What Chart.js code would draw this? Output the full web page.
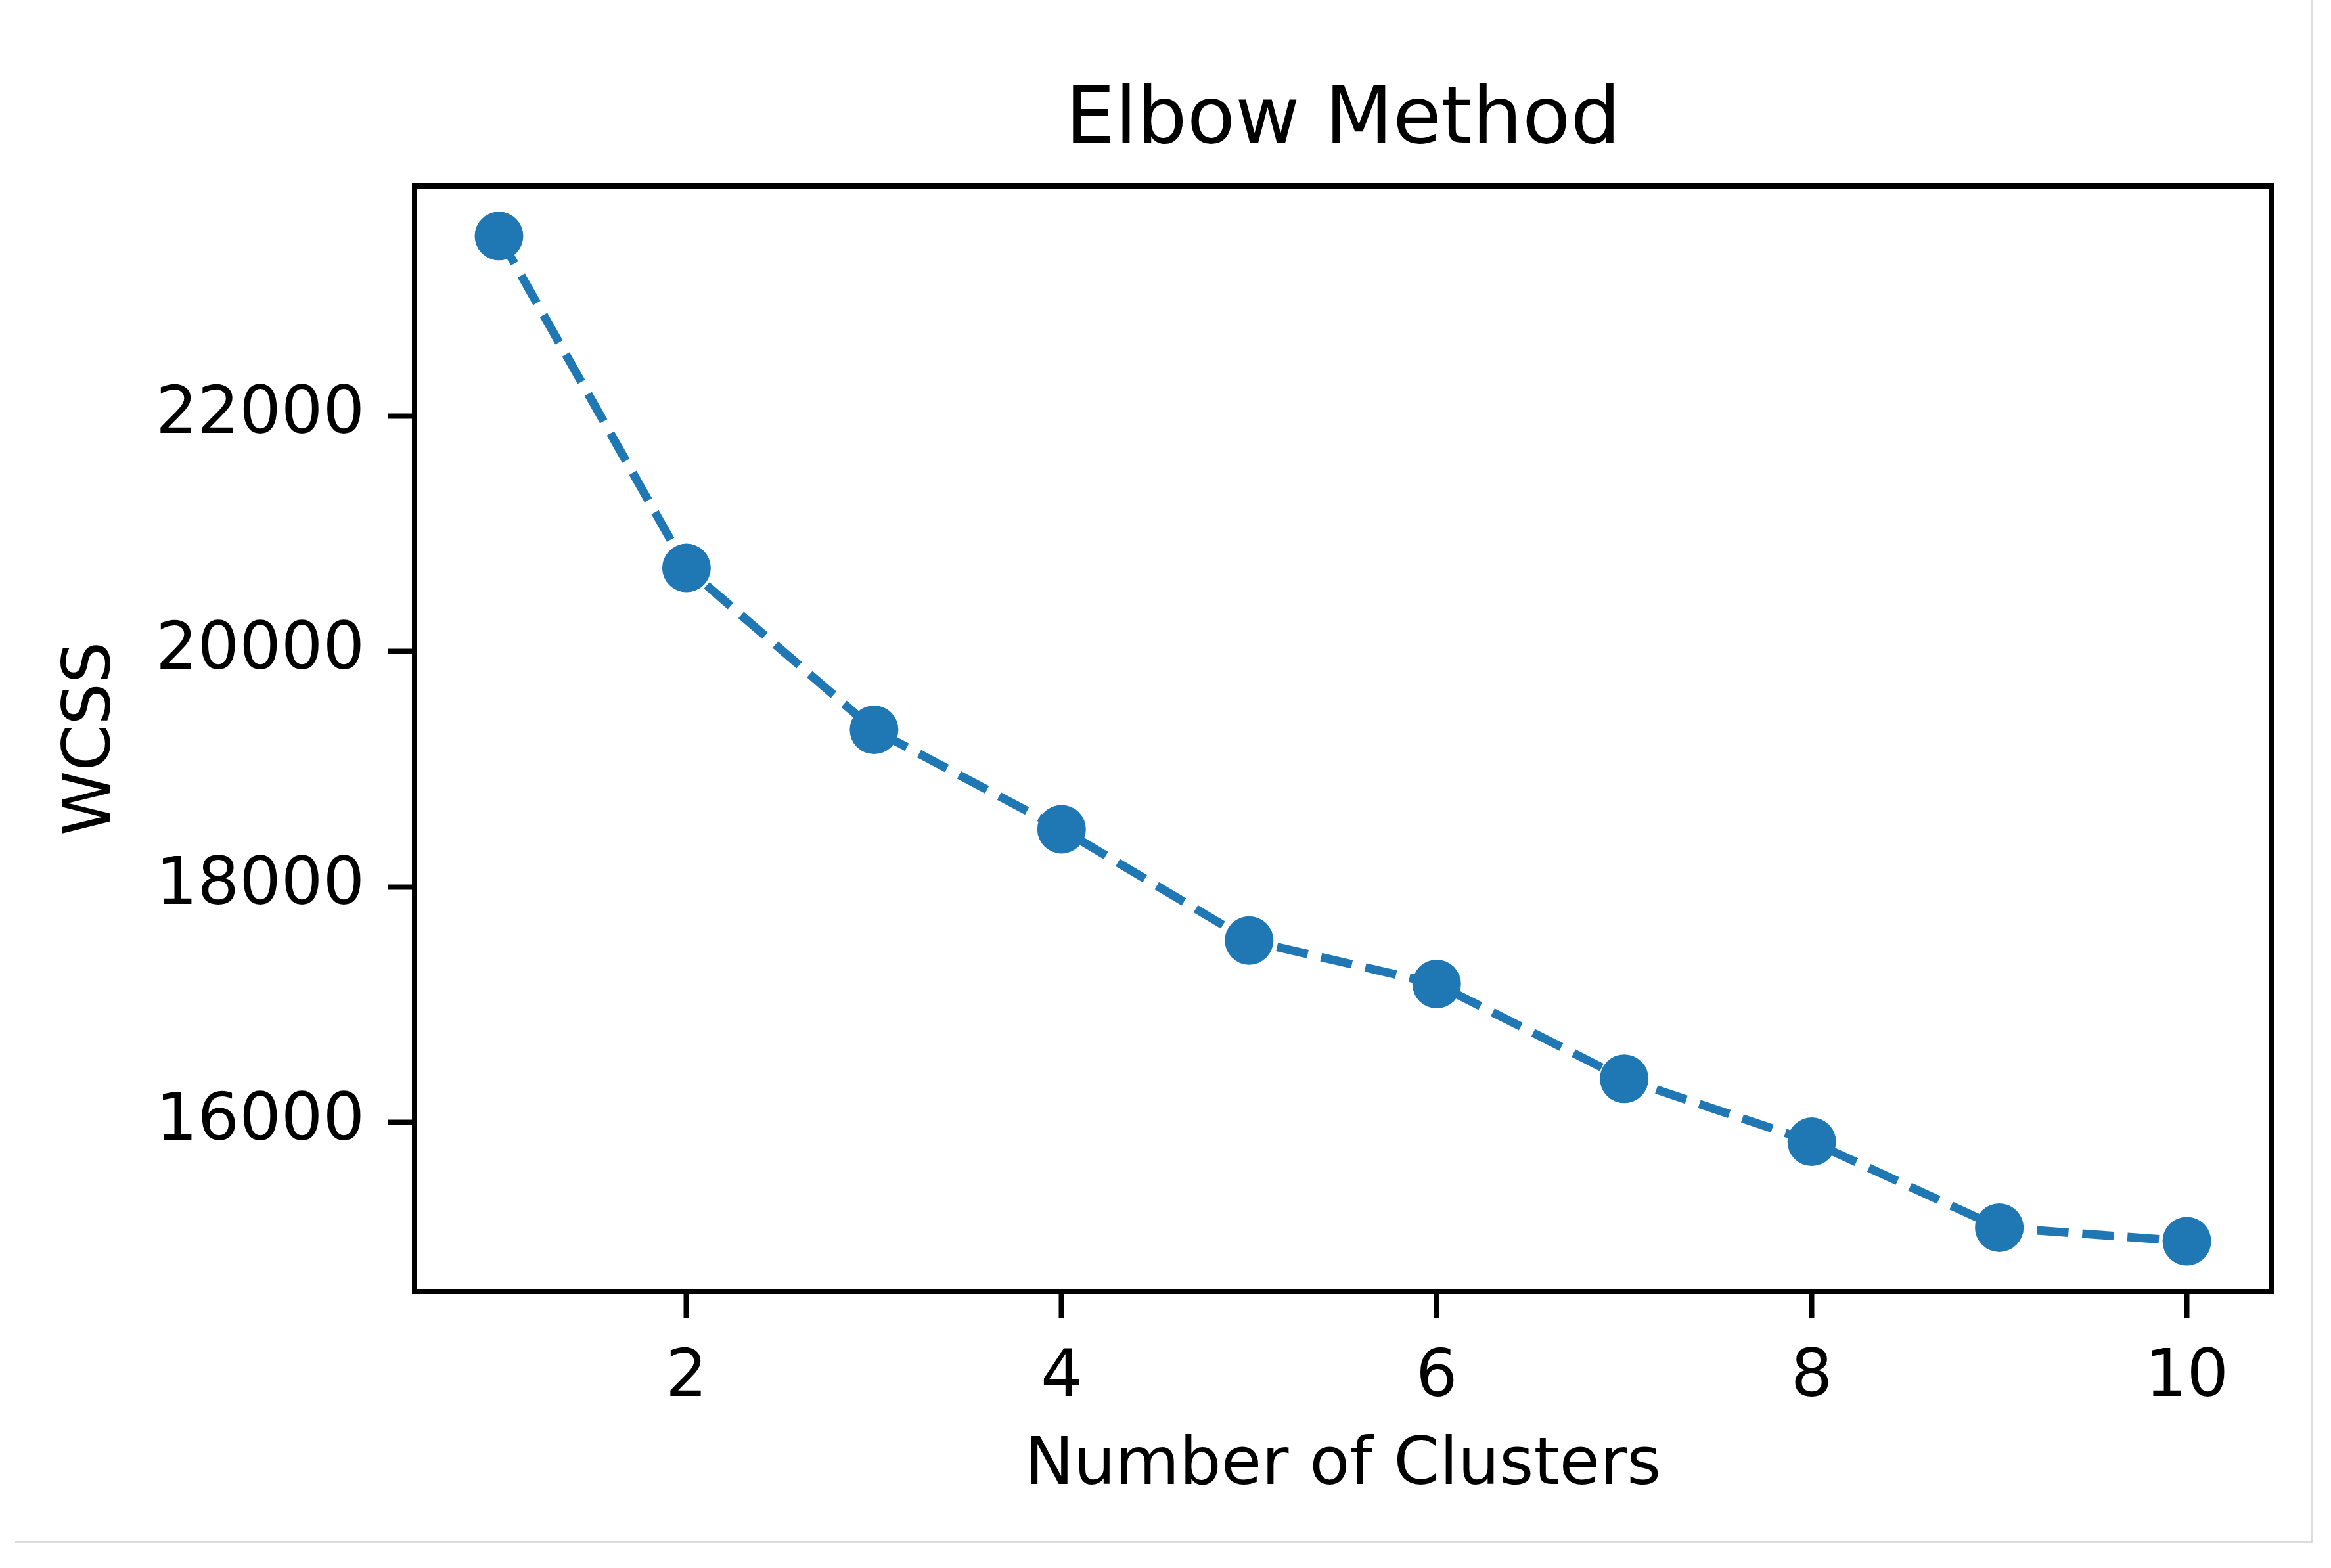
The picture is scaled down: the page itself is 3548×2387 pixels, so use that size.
<!DOCTYPE html>
<html>
<head>
<meta charset="utf-8">
<script src="https://cdn.jsdelivr.net/npm/chart.js@4"></script>
<style>
  body { margin: 0; background: #fff; }
  #wrap { position: relative; width: 3548px; height: 2387px; }
  #edge { position: absolute; left: 23px; top: 0; width: 3494px; height: 2346px;
          border-right: 3px solid #dcdcdc; border-bottom: 3px solid #dcdcdc; }
  canvas { position: absolute; left: 0; top: 0; }
</style>
</head>
<body>
<div id="wrap">
  <div id="edge"></div>
  <canvas id="myChart" width="3548" height="2387"></canvas>
</div>
<script>
// elbow curve values
const clusters = [1, 2, 3, 4, 5, 6, 7, 8, 9, 10];
const wcss = [23530, 20710, 19335, 18490, 17545, 17175, 16370, 15835, 15105, 14990];
const xTicks = [2, 4, 6, 8, 10];
const yTicks = [16000, 18000, 20000, 22000];

const blue = '#1f77b4';
const font = "'DejaVu Sans', sans-serif";

// matplotlib style box round the plot area
const frame = {
  id: 'frame',
  afterDraw(chart) {
    const { ctx, chartArea: a } = chart;
    ctx.save();
    ctx.strokeStyle = '#000';
    ctx.lineWidth = 8;
    ctx.strokeRect(a.left, a.top, a.right - a.left, a.bottom - a.top);
    ctx.restore();
  }
};

function chart() {
  const ctx = document.getElementById('myChart').getContext('2d');

  const data = {
    datasets: [{
      label: 'WCSS',
      data: clusters.map((c, i) => ({ x: c, y: wcss[i] })),
      borderColor: blue,
      backgroundColor: blue,
      borderWidth: 13,
      borderDash: [48, 21],
      tension: 0,
      pointRadius: 37,
      pointBorderWidth: 0,
      pointBackgroundColor: blue,
      pointHoverRadius: 37
    }]
  };

  const tickGrid = {
    display: true,
    drawOnChartArea: false,
    drawTicks: true,
    tickLength: 40,
    tickWidth: 8,
    tickColor: '#000'
  };

  const config = {
    type: 'line',
    data: data,
    plugins: [frame],
    options: {
      responsive: false,
      animation: false,
      layout: { padding: { top: 0, left: 0, right: 91, bottom: 0 } },
      plugins: {
        legend: { display: false },
        tooltip: { enabled: false },
        title: {
          display: true,
          fullSize: false,   // centre over the plot area, not the canvas
          text: 'Elbow Method',
          color: '#000',
          font: { family: font, size: 120, weight: 'normal', lineHeight: 1.2 },
          padding: { top: 114, bottom: 25 }
        }
      },
      scales: {
        x: {
          type: 'linear',
          min: 0.55,
          max: 10.45,
          afterBuildTicks: (s) => { s.ticks = xTicks.map(v => ({ value: v })); },
          afterFit: (s) => { s.height = 421; },
          grid: tickGrid,
          border: { display: false },
          ticks: {
            color: '#000',
            padding: 33,
            maxRotation: 0,
            font: { family: font, size: 100 },
            callback: (v) => String(v)
          },
          title: {
            display: true,
            text: 'Number of Clusters',
            color: '#000',
            font: { family: font, size: 100, lineHeight: 1.2 },
            padding: { top: 0, bottom: 94 }
          }
        },
        y: {
          type: 'linear',
          min: 14563,
          max: 23956,
          afterBuildTicks: (s) => { s.ticks = yTicks.map(v => ({ value: v })); },
          afterFit: (s) => { s.width = 631; },
          grid: tickGrid,
          border: { display: false },
          ticks: {
            color: '#000',
            padding: 36,
            font: { family: font, size: 100 },
            callback: (v) => String(v)
          },
          title: {
            display: true,
            text: 'WCSS',
            color: '#000',
            font: { family: font, size: 100, lineHeight: 1.2 },
            padding: { top: 81, bottom: 0 }
          }
        }
      }
    }
  };
  new Chart(ctx, config);
}

chart();
</script>
</body>
</html>
